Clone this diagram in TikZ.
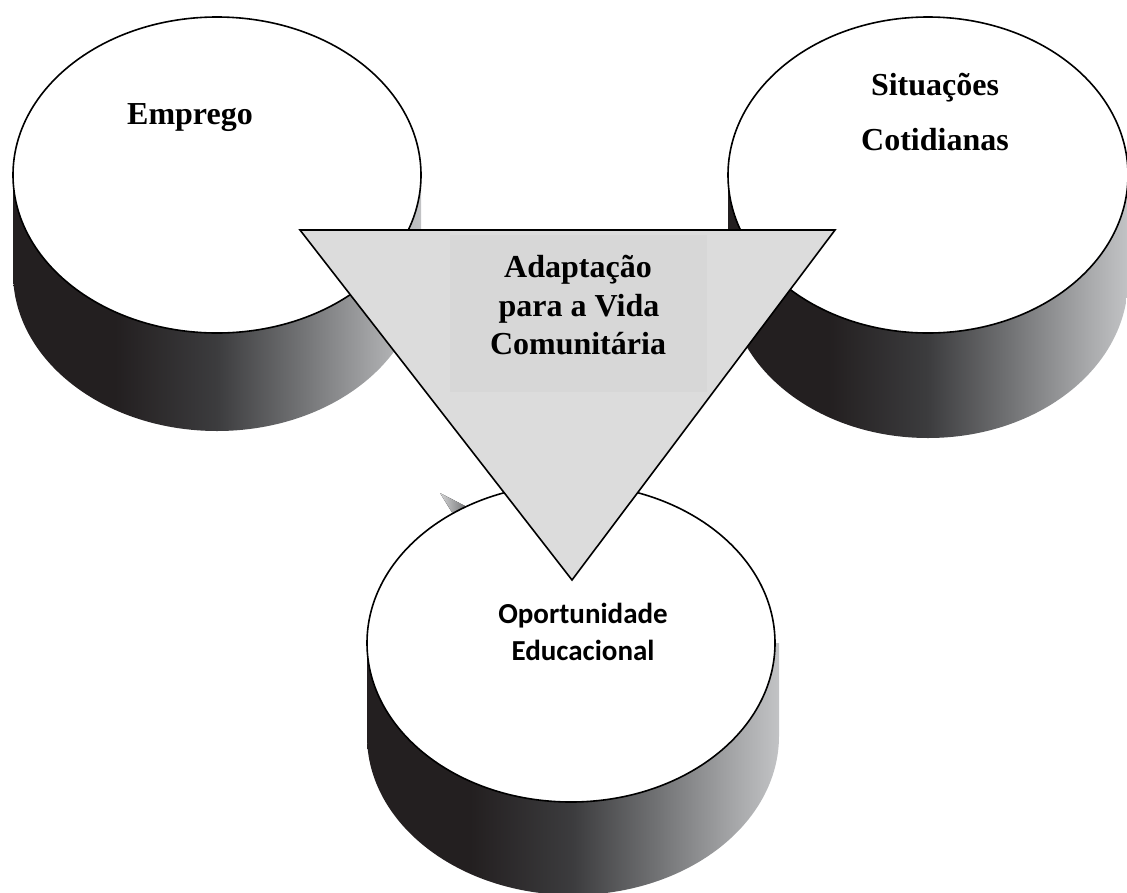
\documentclass[tikz,border=0pt]{standalone}
\usepackage{fontspec}
\setmainfont{Liberation Serif}
\newfontfamily\cali{Carlito}
\definecolor{cdark}{HTML}{231F20}
\definecolor{cmid1}{HTML}{3C3C3E}
\definecolor{cmid2}{HTML}{707173}
\definecolor{cmid3}{HTML}{A8A9AB}
\definecolor{clight}{HTML}{C2C3C5}
\definecolor{trifill}{HTML}{DCDCDC}
\definecolor{txtfill}{HTML}{D7D7D7}
\pgfdeclarehorizontalshading{cylside}{100bp}{color(0bp)=(cdark); color(37.5bp)=(cdark); color(50bp)=(cmid1); color(60bp)=(cmid2); color(70bp)=(cmid3); color(75bp)=(clight); color(100bp)=(clight)}
\pgfdeclarehorizontalshading{wedgeshade}{100bp}{color(0bp)=(cmid3!50!white); color(25bp)=(cmid3!50!white); color(75bp)=(cmid2); color(100bp)=(cmid2)}
\begin{document}
\begin{tikzpicture}[x=1pt,y=-1pt,
  outline/.style={draw=black,line width=1.6pt},
  topface/.style={outline,fill=white},
  sideface/.style={shading=cylside},
  serifbold/.style={font=\fontsize{32}{38}\selectfont\bfseries,inner sep=0pt,anchor=base},
  sansbold/.style={font=\cali\fontsize{29}{37}\selectfont\bfseries,inner sep=0pt,anchor=base}]
\useasboundingbox (0,0) rectangle (1127,892);
\clip (0,0) rectangle (1127,892);
% left cylinder
\path[sideface] (13,175) -- (13,273) arc[start angle=180,end angle=360,x radius=204pt,y radius=158pt] -- (421,175) -- cycle;
\path[topface] (217,175) ellipse[x radius=204pt,y radius=158pt];
% right cylinder
\path[sideface] (728,175) -- (728,280) arc[start angle=180,end angle=360,x radius=200pt,y radius=158pt] -- (1128,175) -- cycle;
\path[topface] (928,175) ellipse[x radius=200pt,y radius=158pt];
% bottom cylinder
\path[sideface] (367,643) -- (367,736) arc[start angle=180,end angle=360,x radius=206pt,y radius=159pt] -- (779,643) -- cycle;
\fill[shading=wedgeshade] (440,493) -- (467,507) -- (453,514) -- cycle;
\path[topface] (571,643) ellipse[x radius=204pt,y radius=159pt];
% triangle
\coordinate (tl) at (300,230);
\coordinate (tr) at (835,230);
\coordinate (tb) at (572,580);
\path[outline,fill=trifill] (tl) -- (tr) -- (tb) -- cycle;
\fill[txtfill] (450,235) rectangle (707,392);
% texts
\node[serifbold] (emp) at (190,124) {Emprego};
\node[serifbold] (sit1) at (935,95) {Situações};
\node[serifbold] (sit2) at (935,150) {Cotidianas};
\node[serifbold] (ad1) at (578,277) {Adaptação};
\node[serifbold] (ad2) at (579,316) {para a Vida};
\node[serifbold] (ad3) at (578,354) {Comunitária};
\node[sansbold] (op1) at (583,623) {Oportunidade};
\node[sansbold] (op2) at (583,660) {Educacional};
\end{tikzpicture}
\end{document}
